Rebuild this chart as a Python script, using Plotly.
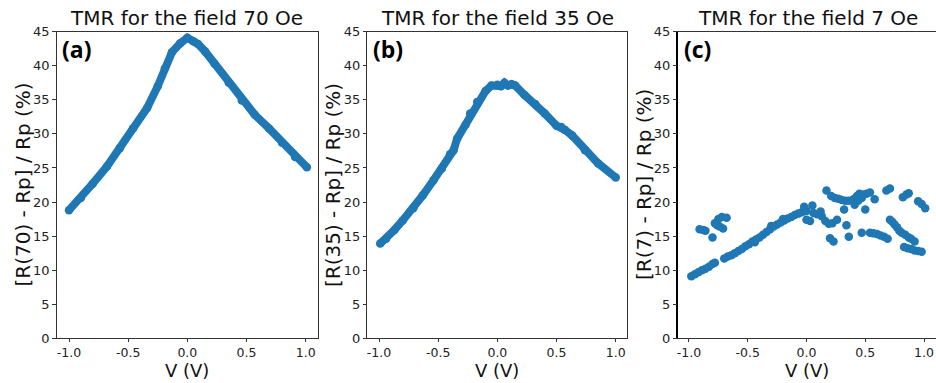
import plotly.graph_objects as go

# ---------------- data ----------------
V_a = [-1.0, -0.9, -0.8, -0.68, -0.57, -0.46, -0.34, -0.25, -0.19, -0.13, -0.06, 0.0,
       0.05, 0.09, 0.15, 0.23, 0.35, 0.46, 0.57, 0.69, 0.8, 0.91, 1.01]
R_a = [18.8, 20.6, 22.7, 25.2, 27.9, 30.8, 33.8, 37.0, 39.6, 42.0, 43.3, 44.1,
       43.6, 43.2, 42.1, 40.3, 37.5, 34.9, 32.8, 30.8, 28.7, 26.6, 25.1]

V_b = [-0.99, -0.94, -0.87, -0.80, -0.71, -0.63, -0.54, -0.47, -0.40, -0.37, -0.34,
       -0.27, -0.23, -0.17, -0.10, -0.05, 0.0, 0.03, 0.06, 0.09, 0.12, 0.15, 0.23,
       0.32, 0.40, 0.50, 0.54, 0.57, 0.63, 0.74, 0.85, 1.0]
R_b = [13.9, 14.6, 15.9, 17.3, 19.1, 21.0, 23.2, 24.9, 27.0, 27.6, 29.3,
       31.3, 33.0, 34.7, 36.3, 37.1, 37.2, 37.0, 37.5, 37.1, 37.3, 37.1, 35.7,
       34.4, 33.0, 31.2, 31.0, 30.6, 29.8, 27.6, 25.7, 23.6]

V_c = [-0.98, -0.95, -0.92, -0.89, -0.86, -0.83, -0.80, -0.78,
       -0.70, -0.67, -0.64, -0.61, -0.58, -0.55, -0.52, -0.49, -0.46, -0.44, -0.43, -0.40,
       -0.37, -0.34, -0.31, -0.30, -0.28, -0.25, -0.22, -0.20, -0.19, -0.16, -0.13, -0.10,
       -0.07, -0.04, -0.02, 0.0,
       -0.91, -0.88, -0.86, -0.80, -0.78, -0.76, -0.75, -0.74, -0.72, -0.71, -0.68,
       0.0, 0.03, 0.05, 0.06, 0.09, 0.12, 0.13, 0.16, 0.19, 0.22, 0.26, 0.20, 0.23, 0.34, 0.36,
       0.17, 0.21, 0.24, 0.27, 0.30, 0.33, 0.36, 0.40, 0.43, 0.45, 0.48, 0.51, 0.54, 0.58,
       0.32, 0.41, 0.50, 0.44, 0.47,
       0.68, 0.71, 0.82, 0.85, 0.87, 0.95, 0.98, 1.01,
       0.47, 0.54, 0.57, 0.60, 0.63, 0.66, 0.69,
       0.71, 0.73, 0.75, 0.77, 0.79, 0.81, 0.84, 0.87, 0.89, 0.92,
       0.83, 0.86, 0.89, 0.92, 0.95, 0.98]
R_c = [9.1, 9.4, 9.7, 10.0, 10.2, 10.5, 10.9, 11.1,
       11.7, 12.0, 12.2, 12.5, 12.8, 13.1, 13.5, 13.8, 14.2, 14.1, 14.5, 14.8,
       15.2, 15.6, 16.0, 16.5, 16.4, 16.7, 17.0, 17.5, 17.3, 17.6, 17.8, 18.1,
       18.3, 18.5, 19.3, 18.7,
       16.0, 15.9, 15.8, 14.8, 16.9, 16.6, 17.5, 16.4, 17.8, 16.1, 17.7,
       17.4, 17.2, 19.5, 18.4, 18.2, 18.6, 17.9, 17.2, 16.8, 16.9, 17.4, 14.7, 14.2, 16.6, 14.9,
       21.7, 20.9, 20.6, 20.5, 20.3, 20.2, 20.2, 20.4, 20.9, 21.2, 21.1, 21.2, 21.4, 20.4,
       18.9, 19.6, 18.9, 20.2, 20.6,
       21.7, 22.0, 20.7, 21.1, 21.3, 20.1, 19.7, 19.1,
       15.5, 15.5, 15.4, 15.3, 15.1, 14.9, 14.6,
       17.4, 17.1, 16.7, 16.3, 15.8, 15.5, 15.2, 14.8, 14.6, 14.2,
       13.4, 13.2, 13.1, 12.9, 12.8, 12.7]

titles = ["TMR for the field 70 Oe", "TMR for the field 35 Oe", "TMR for the field 7 Oe"]
ylabels = ["[R(70) - Rp] / Rp (%)", "[R(35) - Rp] / Rp (%)", "[R(7) - Rp] / Rp (%)"]
panel_tags = ["(a)", "(b)", "(c)"]
xlabel = "V (V)"
x_tickvals = [-1.0, -0.5, 0.0, 0.5, 1.0]
x_ticktext = ["-1.0", "-0.5", "0.0", "0.5", "1.0"]
y_tickvals = [0, 5, 10, 15, 20, 25, 30, 35, 40, 45]

# ---------------- figure ----------------
W, H = 936, 383
BLUE = "#1f77b4"
fig = go.Figure()

fig.add_trace(go.Scatter(x=V_a, y=R_a, mode="lines+markers", xaxis="x", yaxis="y",
                         line=dict(color=BLUE, width=8), marker=dict(color=BLUE, size=8.5),
                         showlegend=False))
fig.add_trace(go.Scatter(x=V_b, y=R_b, mode="lines+markers", xaxis="x2", yaxis="y2",
                         line=dict(color=BLUE, width=8), marker=dict(color=BLUE, size=8.5),
                         showlegend=False))
fig.add_trace(go.Scatter(x=V_c, y=R_c, mode="markers", xaxis="x3", yaxis="y3",
                         marker=dict(color=BLUE, size=8.5), showlegend=False))

ydom = [1 - 338.3 / H, 1 - 31.7 / H]
xdoms = [[56.7 / W, 318.0 / W], [367.3 / W, 626.5 / W], [678.3 / W, 1.0]]
xranges = [[-1.104, 1.104], [-1.099, 1.091], [-1.091, 1.102]]

FONT = "DejaVu Sans"
ytickfont = dict(family=FONT, size=13, color="#222")
xtickfont = dict(family=FONT, size=12.5, color="#222")
for i in range(3):
    sx = "" if i == 0 else str(i + 1)
    last = i == 2
    fig.update_layout(**{
        f"xaxis{sx}": dict(domain=xdoms[i], range=xranges[i], anchor=f"y{sx}",
                           tickvals=x_tickvals, ticktext=x_ticktext, automargin=False,
                           showline=True, mirror=True, linecolor="#333", linewidth=1,
                           ticks="outside", ticklen=3, tickcolor="#333",
                           showgrid=False, zeroline=False, tickfont=xtickfont),
        f"yaxis{sx}": dict(domain=ydom, range=[0, 45], anchor=f"x{sx}",
                           tickvals=y_tickvals, automargin=False,
                           showline=True, mirror=(not last),
                           linecolor="#000" if last else "#333",
                           linewidth=1.6 if last else 1,
                           ticks="outside", ticklen=3.5, tickcolor="#333",
                           showgrid=False, zeroline=False, tickfont=ytickfont),
    })

title_cx = [186.5, 497.5, 808.0]
ylab_cx = [22.5, 333.0, 644.0]
xlab_cx = [186.5, 497.0, 807.0]
tag_x = [60.0, 371.0, 682.0]

ann = []
for i in range(3):
    ann.append(dict(text=titles[i], x=title_cx[i] / W, y=1 - 18.5 / H, xref="paper", yref="paper",
                    xanchor="center", yanchor="middle", showarrow=False,
                    font=dict(family=FONT, size=20, color="#111")))
    ann.append(dict(text=ylabels[i], x=ylab_cx[i] / W, y=1 - 185 / H, xref="paper", yref="paper",
                    xanchor="center", yanchor="middle", showarrow=False, textangle=-90,
                    font=dict(family=FONT, size=20, color="#111")))
    ann.append(dict(text=xlabel, x=xlab_cx[i] / W, y=0.0, xref="paper", yref="paper",
                    xanchor="center", yanchor="bottom", showarrow=False,
                    font=dict(family=FONT, size=18, color="#111")))
    ann.append(dict(text="<b>" + panel_tags[i] + "</b>", x=tag_x[i] / W, y=1 - 48.5 / H,
                    xref="paper", yref="paper", xanchor="left", yanchor="middle",
                    showarrow=False, font=dict(family="Open Sans", size=23, color="#000")))

fig.update_layout(width=W, height=H,
                  margin=dict(l=0, r=0, t=0, b=0, pad=0, autoexpand=False),
                  paper_bgcolor="white", plot_bgcolor="white", annotations=ann)

fig.write_html("out.html")
